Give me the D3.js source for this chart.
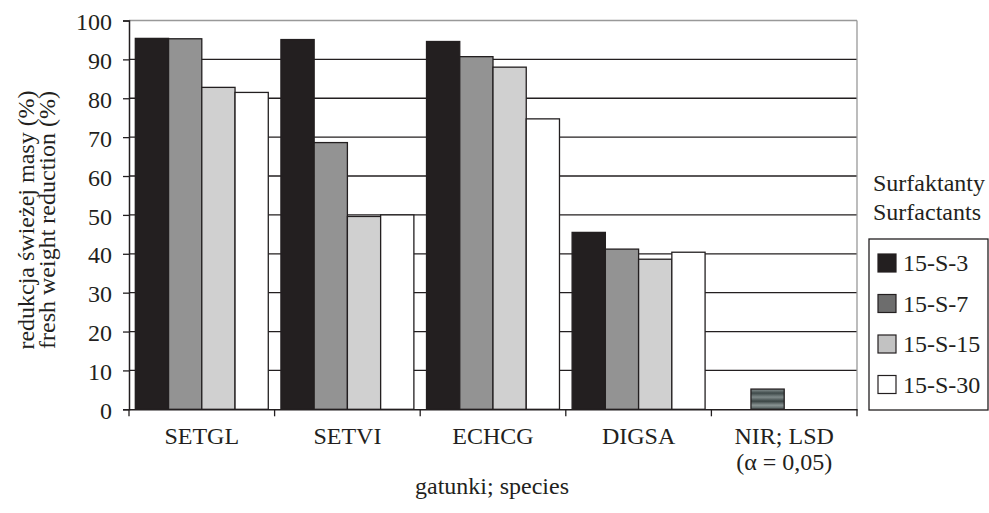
<!DOCTYPE html>
<html><head><meta charset="utf-8">
<script src="https://cdn.jsdelivr.net/npm/d3@7"></script>
<style>body{margin:0;background:#fff}svg{display:block}</style>
</head><body>
<svg id="c" width="989" height="513"></svg>
<script>
const categories = ["SETGL","SETVI","ECHCG","DIGSA","NIR; LSD"];
const series = ["15-S-3","15-S-7","15-S-15","15-S-30"];
const v15S3  = [95.4, 95.1, 94.6, 45.5, null];
const v15S7  = [95.3, 68.6, 90.7, 41.2, 5.2];
const v15S15 = [82.8, 49.6, 88.0, 38.6, null];
const v15S30 = [81.5, 50.0, 74.7, 40.4, null];
const yTicks = [0,10,20,30,40,50,60,70,80,90,100];
const barColors = ["#231f20","#939393","#d0d0d0","#ffffff"];
const legendColors = ["#231f20","#6d6d6d","#c2c2c2","#ffffff"];
const values = [v15S3, v15S7, v15S15, v15S30];

const FONT = '"Liberation Serif"';
const INK = "#231f20";
const svg = d3.select("#c");
function txt(sel, size){ return sel.attr("font-family","Liberation Serif").style("font-family",FONT).style("font-size",size+"px").attr("fill",INK); }

const L=129, R=857, T=20.5, B=409.3;
const x = d3.scaleBand().domain(categories).range([L,R]).paddingInner(0).paddingOuter(0);
const xs = d3.scaleBand().domain(series).range([0, x.bandwidth()]).paddingInner(0).paddingOuter(0.19);
const y = d3.scaleLinear().domain([0,100]).range([B,T]);

// striped gradient for NIR bar
const defs = svg.append("defs");
const g = defs.append("linearGradient").attr("id","nir").attr("x1",0).attr("x2",0).attr("y1",0).attr("y2",1);
[["0%","#8a9494"],["20%","#3f4a4a"],["40%","#7f8a8a"],["60%","#3a4444"],["80%","#8a9494"],["100%","#4a5555"]].forEach(s=>g.append("stop").attr("offset",s[0]).attr("stop-color",s[1]));

// grid lines
svg.append("g").selectAll("line").data(yTicks.filter(d=>d>0)).join("line")
  .attr("x1",L).attr("x2",R).attr("y1",d=>y(d)).attr("y2",d=>y(d))
  .attr("stroke",d=>d===100?"#999":INK).attr("stroke-width",1.3);
svg.append("line").attr("x1",R).attr("x2",R).attr("y1",T).attr("y2",B).attr("stroke","#999").attr("stroke-width",1.3);

// bars
series.forEach((s,si)=>{
  svg.append("g").selectAll("rect").data(categories.map((c,i)=>({c,v:values[si][i]})).filter(d=>d.v!==null)).join("rect")
    .attr("x",d=>x(d.c)+xs(s)).attr("width",xs.bandwidth())
    .attr("y",d=>y(d.v)).attr("height",d=>B-y(d.v))
    .attr("fill",d=>d.c==="NIR; LSD"?"url(#nir)":barColors[si])
    .attr("stroke",INK).attr("stroke-width",1.3);
});

// y axis
const ya = svg.append("g").attr("transform",`translate(${L},0)`)
  .call(d3.axisLeft(y).tickValues(yTicks).tickSize(6).tickPadding(11));
ya.attr("font-family","Liberation Serif").attr("font-size",null);
ya.select(".domain").attr("stroke",INK).attr("stroke-width",1.5);
ya.selectAll(".tick line").attr("stroke",INK).attr("stroke-width",1.3);
txt(ya.selectAll("text"),24).attr("dy","0.38em");

// x axis
const xa = svg.append("g").attr("transform",`translate(0,${B})`)
  .call(d3.axisBottom(x).tickSize(0).tickFormat(""));
xa.select(".domain").attr("stroke",INK).attr("stroke-width",1.5);
svg.append("g").selectAll("line").data(d3.range(categories.length+1)).join("line")
  .attr("x1",i=>L+i*x.bandwidth()).attr("x2",i=>L+i*x.bandwidth())
  .attr("y1",B).attr("y2",B+7).attr("stroke",INK).attr("stroke-width",1.3);
txt(svg.append("g").selectAll("text").data(categories).join("text")
  .attr("x",d=>x(d)+x.bandwidth()/2).attr("y",444).attr("text-anchor","middle"),24).text(d=>d);
txt(svg.append("text").attr("x",x("NIR; LSD")+x.bandwidth()/2).attr("y",470).attr("text-anchor","middle"),24)
  .text("(α = 0,05)");

// axis titles
txt(svg.append("text").attr("x",492).attr("y",494).attr("text-anchor","middle"),24).text("gatunki; species");
const yt = txt(svg.append("text").attr("transform","translate(34,220) rotate(-90)").attr("text-anchor","middle"),24);
yt.append("tspan").attr("x",0).attr("dy",0).text("redukcja świeżej masy (%)");
yt.append("tspan").attr("x",0).attr("dy",21).text("fresh weight reduction (%)");

// legend
txt(svg.append("text").attr("x",873).attr("y",191),24).text("Surfaktanty");
txt(svg.append("text").attr("x",873).attr("y",220),24).text("Surfactants");
svg.append("rect").attr("x",869).attr("y",239).attr("width",119).attr("height",171).attr("fill","#fff").attr("stroke",INK).attr("stroke-width",1.3);
const lg = svg.append("g").selectAll("g").data(series).join("g")
  .attr("transform",(d,i)=>`translate(878,${263+i*40.5})`);
lg.append("rect").attr("x",0).attr("y",-9).attr("width",18).attr("height",18)
  .attr("fill",(d,i)=>legendColors[i]).attr("stroke",INK).attr("stroke-width",1.2);
txt(lg.append("text").attr("x",25).attr("y",8),24).text(d=>d);
</script>
</body></html>
